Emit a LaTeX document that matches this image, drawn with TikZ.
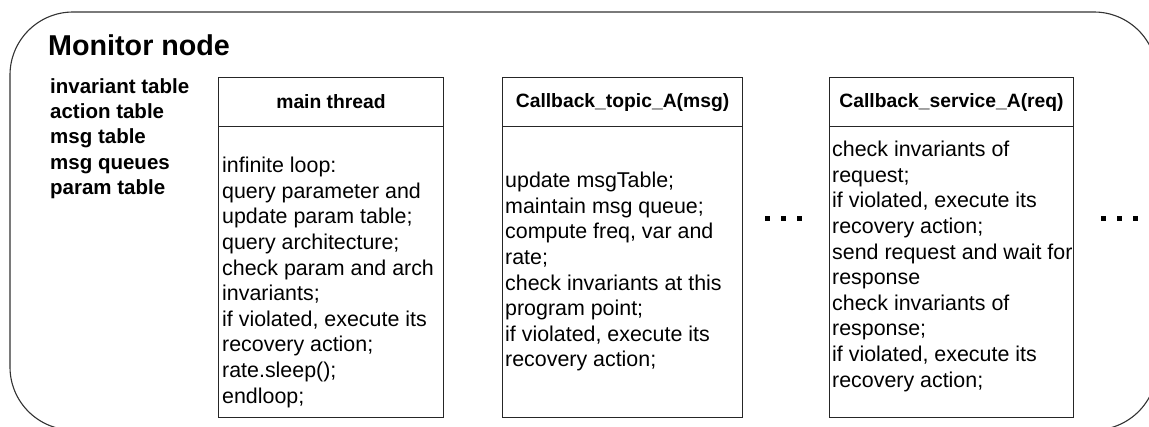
\documentclass[tikz,border=0pt]{standalone}
\usepackage{fontspec}
\setmainfont{Liberation Sans}
\begin{document}
\begin{tikzpicture}[x=1pt,y=-1pt,
  frame/.style={draw=black!85, line width=1.1pt},
  hdrbox/.style={frame, anchor=north west, inner sep=0pt, font=\fontsize{19.3}{23}\selectfont\bfseries},
  bodybox/.style={frame, anchor=north west, inner sep=0pt},
  bodytext/.style={anchor=north west, inner sep=0pt, align=left, font=\fontsize{21.4}{25.6}\selectfont},
  listtext/.style={anchor=north west, inner sep=0pt, align=left, font=\fontsize{20.5}{25.4}\selectfont\bfseries},
  dot/.style={fill=black, inner sep=0pt, minimum size=5pt}
]
\useasboundingbox (0,0) rectangle (1149,426);
\begin{scope}
\clip (0,0) rectangle (1149,426);
\draw[line width=1.1pt, draw=black!80, rounded corners=63pt] (10,12) rectangle (1157,430);
\end{scope}
\node[anchor=base west, inner sep=0pt, font=\fontsize{28.7}{32}\selectfont\bfseries] (title) at (48,55) {Monitor node};
\node[listtext] (tables) at (50,78) {invariant table\\action table\\msg table\\msg queues\\param table};
% main thread
\node[hdrbox, minimum width=225pt, minimum height=49pt] (mainH) at (218,77) {main thread};
\node[bodybox, minimum width=225pt, minimum height=291pt] (mainB) at (218,126) {};
\node[bodytext] (mainT) at (222,157) {infinite loop:\\query parameter and\\update param table;\\query architecture;\\check param and arch\\invariants;\\if violated, execute its\\recovery action;\\rate.sleep();\\endloop;};
% topic callback
\node[hdrbox, minimum width=240pt, minimum height=49pt] (topH) at (502,77) {Callback\_topic\_A(msg)};
\node[bodybox, minimum width=240pt, minimum height=291pt] (topB) at (502,126) {};
\node[bodytext] (topT) at (505,172) {update msgTable;\\maintain msg queue;\\compute freq, var and\\rate;\\check invariants at this\\program point;\\if violated, execute its\\recovery action;};
% service callback
\node[hdrbox, minimum width=244pt, minimum height=49pt] (srvH) at (829,77) {Callback\_service\_A(req)};
\node[bodybox, minimum width=244pt, minimum height=291pt] (srvB) at (829,126) {};
\node[bodytext] (srvT) at (832,141) {check invariants of\\request;\\if violated, execute its\\recovery action;\\send request and wait for\\response\\check invariants of\\response;\\if violated, execute its\\recovery action;};
% dots
\node[dot] (d1) at (767,218) {};
\node[dot] (d2) at (783,218) {};
\node[dot] (d3) at (799,218) {};
\node[dot] (e1) at (1103,218) {};
\node[dot] (e2) at (1119,218) {};
\node[dot] (e3) at (1135,218) {};
\end{tikzpicture}
\end{document}
